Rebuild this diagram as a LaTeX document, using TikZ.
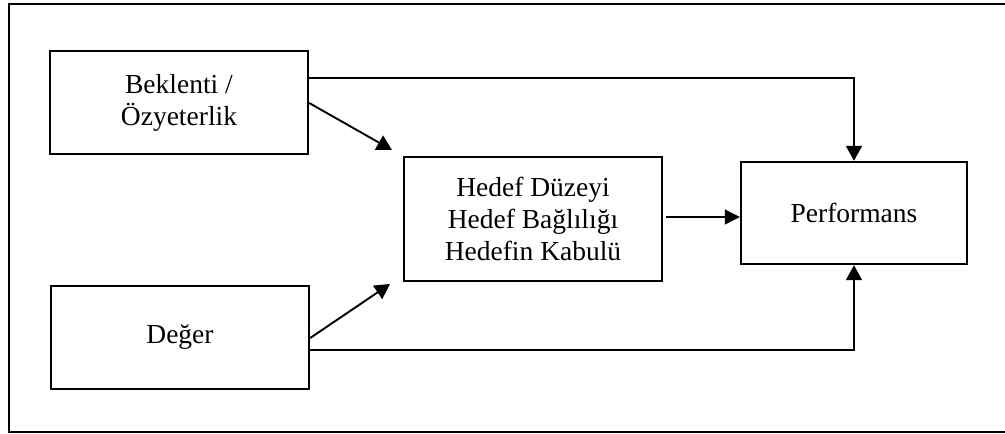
\documentclass[tikz,border=0pt]{standalone}
\usepackage{fontspec}
\setmainfont{Liberation Serif}
\usetikzlibrary{arrows.meta}
\begin{document}
\begin{tikzpicture}[x=1pt,y=-1pt,
  box/.style={draw, line width=2.4pt, inner sep=0pt, align=center,
    font=\fontsize{27.5}{32}\selectfont},
  link/.style={line width=1.9pt, -{Triangle[length=15pt,width=16pt]}},
  thin link/.style={line width=1.1pt, -{Triangle[length=15pt,width=15pt]}}]
  \useasboundingbox (0,0) rectangle (1005,434);
  % outer frame (its right side runs past the page edge)
  \draw[line width=2.4pt] (1020,4) -- (9,4) -- (9,432) -- (1020,432);

  % boxes
  \node[box, minimum width=258pt, minimum height=103pt] (bek) at (179,102.5) {Beklenti /\\Özyeterlik};
  \node[box, minimum width=258pt, minimum height=103pt] (deg) at (180,337.5) {Değer};
  \node[box, minimum width=258pt, minimum height=124pt] (hed) at (533,219) {Hedef Düzeyi\\Hedef Bağlılığı\\Hedefin Kabulü};
  \node[box, minimum width=226pt, minimum height=102pt] (per) at (854,213) {Performans};

  % connectors
  \coordinate (bekTop) at (bek.east |- 0,78);
  \coordinate (degBot) at (deg.east |- 0,350);
  \draw[link] (bekTop) -| (per.north);
  \draw[link] (degBot) -| (per.south);
  \draw[link] (bek.east |- 0,103) -- (392,150);
  \draw[link] (deg.east |- 0,338) -- (390,284);
  \draw[thin link] (hed.east |- 0,217) ++(3,0) -- (per.west |- 0,217);
\end{tikzpicture}
\end{document}
